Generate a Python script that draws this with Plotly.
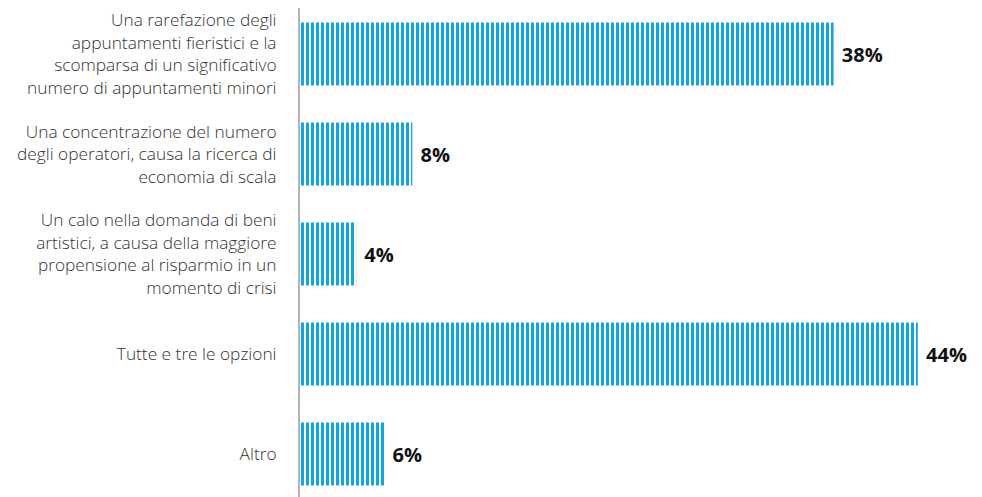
import plotly.graph_objects as go

categories = [
    "Una rarefazione degli<br>appuntamenti fieristici e la<br>scomparsa di un significativo<br>numero di appuntamenti minori",
    "Una concentrazione del numero<br>degli operatori, causa la ricerca di<br>economia di scala",
    "Un calo nella domanda di beni<br>artistici, a causa della maggiore<br>propensione al risparmio in un<br>momento di crisi",
    "Tutte e tre le opzioni",
    "Altro",
]
values = [38, 8, 4, 44, 6]
value_labels = ["38%", "8%", "4%", "44%", "6%"]

fig = go.Figure(go.Bar(
    x=values,
    y=categories,
    orientation="h",
    width=0.63,
    text=[" " + v for v in value_labels],
    textposition="outside",
    cliponaxis=False,
    textfont=dict(family="Open Sans", size=20, color="#111111", weight=700),
    marker=dict(
        color="#ffffff",
        line=dict(width=0),
        pattern=dict(shape="|", fgcolor="#0ea5e0", bgcolor="#ffffff",
                     size=5, solidity=0.6, fillmode="replace"),
    ),
))

fig.update_layout(
    width=982, height=497,
    margin=dict(l=292, r=16, t=0, b=0, autoexpand=False),
    paper_bgcolor="white", plot_bgcolor="white",
    showlegend=False,
    bargap=0.37,
    xaxis=dict(range=[0, 48], visible=False, fixedrange=True, automargin=False),
    yaxis=dict(
        categoryorder="array", categoryarray=categories,
        range=[4.51, -0.46],
        automargin=False,
        showline=True, linecolor="#b3b3b3", linewidth=2,
        ticks="", ticklabelstandoff=18,
        tickfont=dict(family="Open Sans", size=17.3, color="#333333", weight=300),
        showgrid=False, zeroline=False,
    ),
)

fig.write_html("out.html")
